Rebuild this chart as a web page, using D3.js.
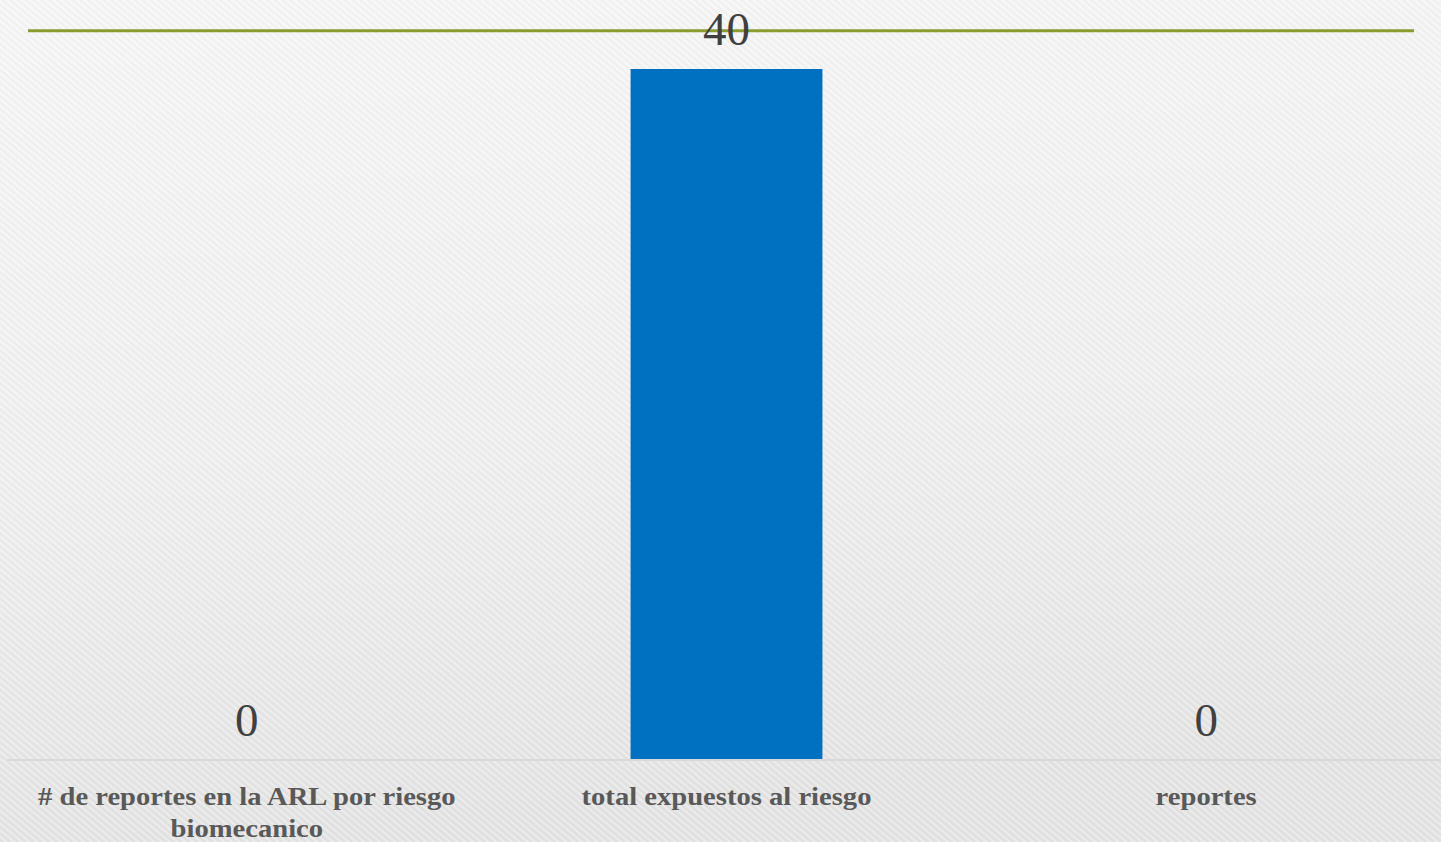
<!DOCTYPE html>
<html>
<head>
<meta charset="utf-8">
<script src="https://cdn.jsdelivr.net/npm/d3@7"></script>
<style>
  html, body { margin: 0; padding: 0; overflow: hidden; }
  svg { display: block; }
</style>
</head>
<body>
<svg id="chart" width="1441" height="842"></svg>
<script>
const categories = ["# de reportes en la ARL por riesgo biomecanico", "total expuestos al riesgo", "reportes"];
const values = [0, 40, 0];
const yMax = 40;

(function () {
const W = 1441, H = 842;
const svg = d3.select("#chart");
const defs = svg.append("defs");

const grad = defs.append("linearGradient").attr("id", "bg").attr("x1", 0).attr("y1", 0).attr("x2", 0.15).attr("y2", 1);
grad.append("stop").attr("offset", "0%").attr("stop-color", "#f5f5f5");
grad.append("stop").attr("offset", "55%").attr("stop-color", "#eeeeee");
grad.append("stop").attr("offset", "100%").attr("stop-color", "#e2e2e2");

const pat = defs.append("pattern").attr("id", "tex").attr("patternUnits", "userSpaceOnUse")
  .attr("width", 5).attr("height", 5).attr("patternTransform", "rotate(40)");
pat.append("rect").attr("width", 5).attr("height", 1.5).attr("fill", "#ffffff").attr("opacity", 0.4);
pat.append("rect").attr("y", 3).attr("width", 5).attr("height", 1).attr("fill", "#cfcfcf").attr("opacity", 0.18);

svg.append("rect").attr("width", W).attr("height", H).attr("fill", "url(#bg)");
svg.append("rect").attr("width", W).attr("height", H).attr("fill", "url(#tex)");

const mLeft = 7, mRight = 1446, mTop = 69, mBottom = 760;
const x = d3.scaleBand().domain(categories).range([mLeft, mRight]).paddingInner(0.6).paddingOuter(0.3);
const y = d3.scaleLinear().domain([0, yMax]).range([mBottom, mTop]);

// top green rule
svg.append("line").attr("x1", 28).attr("x2", 1414).attr("y1", 30.8).attr("y2", 30.8)
  .attr("stroke", "#8a9c2f").attr("stroke-width", 3);

// bars
svg.append("g").selectAll("rect").data(values).join("rect")
  .attr("x", (d, i) => x(categories[i]))
  .attr("width", x.bandwidth())
  .attr("y", d => y(d))
  .attr("height", d => y(0) - y(d))
  .attr("fill", "#0070c0");

// baseline axis
const axis = svg.append("g").attr("transform", `translate(0,${mBottom})`)
  .call(d3.axisBottom(x).tickSize(0).tickFormat(""));
axis.select(".domain").attr("stroke", "#d9d9d9").attr("stroke-width", 2).attr("d", `M${mLeft},0H${W}`);

// value labels
svg.append("g").selectAll("text").data(values).join("text")
  .attr("x", (d, i) => x(categories[i]) + x.bandwidth() / 2)
  .attr("y", d => y(d) - 24)
  .attr("text-anchor", "middle")
  .attr("font-family", "'Liberation Serif', 'DejaVu Serif', serif")
  .attr("font-size", 47)
  .attr("fill", "#404040")
  .text(d => d);

// category labels with wrapping
const sx = 1.1;
const labelG = svg.append("g");
categories.forEach((c, i) => {
  const cx = x(c) + x.bandwidth() / 2;
  const t = labelG.append("text")
    .attr("x", cx).attr("y", 805)
    .attr("text-anchor", "middle")
    .attr("font-family", "'Liberation Serif', serif")
    .attr("font-weight", "bold")
    .attr("font-size", 26)
    .attr("fill", "#595959")
    .attr("transform", `translate(${cx},0) scale(${sx},1) translate(${-cx},0)`);
  const words = c.split(" ");
  let line = [];
  let ts = t.append("tspan").attr("x", cx).attr("dy", 0);
  words.forEach(w => {
    line.push(w);
    ts.text(line.join(" "));
    if (ts.node().getComputedTextLength() * sx > 440 && line.length > 1) {
      line.pop();
      ts.text(line.join(" "));
      line = [w];
      ts = t.append("tspan").attr("x", cx).attr("dy", 32).text(w);
    }
  });
});
})();
</script>
</body>
</html>
